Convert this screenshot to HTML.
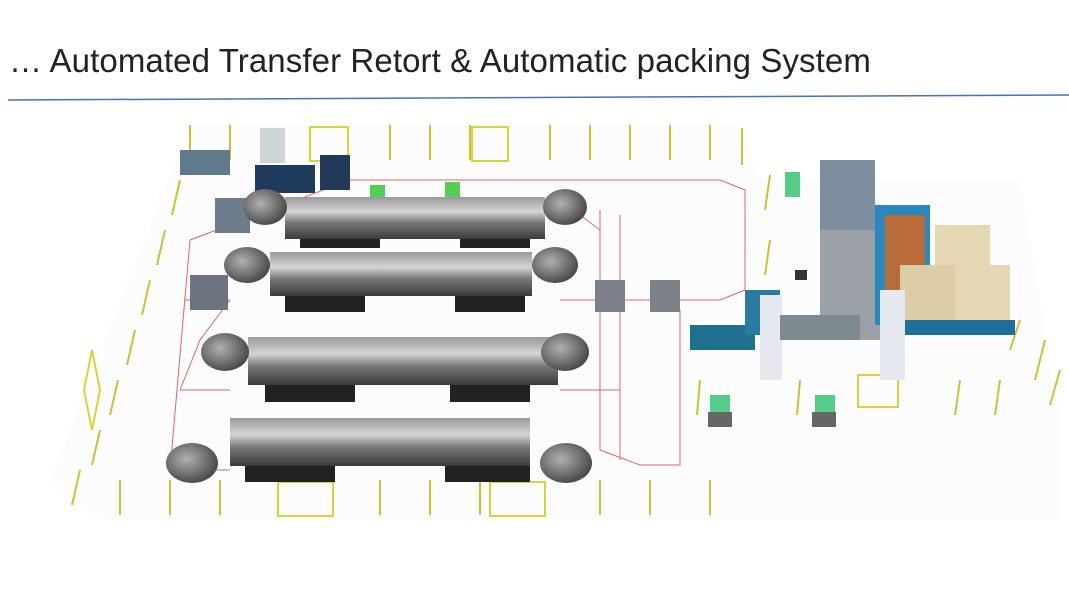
<!DOCTYPE html>
<html><head><meta charset="utf-8"><style>
html,body{margin:0;padding:0;background:#fff;width:1069px;height:601px;overflow:hidden}
.t{position:absolute;left:9px;top:42px;font-family:"Liberation Sans",sans-serif;font-size:33px;color:#222;letter-spacing:0.1px;white-space:nowrap}
svg{position:absolute;left:0;top:0}
</style></head><body>
<div class="t">… Automated Transfer Retort &amp; Automatic packing System</div>
<svg width="1069" height="601" viewBox="0 0 1069 601">
<defs>
<linearGradient id="cyl" x1="0" y1="0" x2="0" y2="1">
<stop offset="0" stop-color="#9a9a9a"/><stop offset="0.35" stop-color="#d4d4d4"/><stop offset="0.6" stop-color="#7a7a7a"/><stop offset="1" stop-color="#3a3a3a"/></linearGradient>
<radialGradient id="end" cx="0.4" cy="0.4" r="0.7"><stop offset="0" stop-color="#b0b0b0"/><stop offset="1" stop-color="#3c3c3c"/></radialGradient>
</defs>
<line x1="8" y1="100" x2="1069" y2="95" stroke="#4472c4" stroke-width="1.5"/>
<polygon points="190,125 740,125 760,180 1020,180 1060,420 1060,520 100,520 50,480" fill="#fcfcfc"/>
<g fill="none" stroke="#d66" stroke-width="1">
<path d="M190,240 L350,180 L720,180 L745,190 L745,290 L720,300 L560,300"/>
<path d="M190,240 L170,470 L230,470"/>
<path d="M600,210 L600,450 L640,465 L680,465 L680,310"/>
<path d="M620,215 L620,460"/>
<path d="M185,300 L230,300 M180,390 L230,390 M560,390 L620,390 M560,300 L600,300"/>
<path d="M230,300 L200,340 L180,390 M560,200 L600,230"/>
</g>
<g stroke="#c9c23a" stroke-width="2">
<line x1="190" y1="125" x2="190" y2="160"/><line x1="230" y1="125" x2="230" y2="160"/><line x1="390" y1="125" x2="390" y2="160"/><line x1="430" y1="125" x2="430" y2="160"/><line x1="470" y1="125" x2="470" y2="160"/><line x1="550" y1="125" x2="550" y2="160"/><line x1="590" y1="125" x2="590" y2="160"/><line x1="630" y1="125" x2="630" y2="160"/><line x1="670" y1="125" x2="670" y2="160"/><line x1="710" y1="125" x2="710" y2="160"/><line x1="742" y1="128" x2="742" y2="165"/>
<line x1="180" y1="180" x2="172" y2="215"/><line x1="165" y1="230" x2="157" y2="265"/><line x1="150" y1="280" x2="142" y2="315"/><line x1="135" y1="330" x2="127" y2="365"/><line x1="118" y1="380" x2="110" y2="415"/><line x1="100" y1="430" x2="92" y2="465"/><line x1="80" y1="470" x2="72" y2="505"/>
<line x1="120" y1="480" x2="120" y2="515"/><line x1="170" y1="480" x2="170" y2="515"/><line x1="220" y1="480" x2="220" y2="515"/><line x1="380" y1="480" x2="380" y2="515"/><line x1="430" y1="480" x2="430" y2="515"/><line x1="480" y1="480" x2="480" y2="515"/><line x1="600" y1="480" x2="600" y2="515"/><line x1="650" y1="480" x2="650" y2="515"/><line x1="710" y1="480" x2="710" y2="515"/>
<line x1="770" y1="175" x2="765" y2="210"/><line x1="770" y1="240" x2="765" y2="275"/><line x1="700" y1="380" x2="697" y2="415"/><line x1="800" y1="380" x2="797" y2="415"/><line x1="960" y1="380" x2="955" y2="415"/><line x1="1000" y1="380" x2="995" y2="415"/><line x1="1020" y1="320" x2="1010" y2="350"/><line x1="1045" y1="340" x2="1035" y2="380"/><line x1="1060" y1="370" x2="1050" y2="405"/>
</g>
<g fill="none" stroke="#d8d33a" stroke-width="2">
<rect x="310" y="127" width="38" height="34"/><rect x="472" y="127" width="36" height="34"/><rect x="278" y="482" width="55" height="34"/><rect x="490" y="482" width="55" height="34"/><rect x="858" y="375" width="40" height="32"/>
<path d="M92,350 L100,390 L92,430 L84,390Z"/>
</g>
<rect x="180" y="150" width="50" height="25" fill="#5f7a8a"/>
<rect x="255" y="165" width="60" height="28" fill="#1f3a5a"/><rect x="320" y="155" width="30" height="35" fill="#22395a"/>
<rect x="215" y="198" width="35" height="35" fill="#6d7d8c"/>
<rect x="260" y="128" width="25" height="35" fill="#cfd4d8"/>
<rect x="370" y="185" width="15" height="15" fill="#5c5"/><rect x="445" y="182" width="15" height="15" fill="#5c5"/>
<rect x="190" y="275" width="38" height="35" fill="#6b7480"/>
<rect x="595" y="280" width="30" height="32" fill="#7c8088"/><rect x="650" y="280" width="30" height="32" fill="#7c8088"/>
<g>
<rect x="300" y="230" width="80" height="18" fill="#222"/><rect x="460" y="230" width="70" height="18" fill="#222"/>
<rect x="285" y="197" width="260" height="42" fill="url(#cyl)"/>
<ellipse cx="265" cy="207" rx="22" ry="18" fill="url(#end)"/><ellipse cx="565" cy="207" rx="22" ry="18" fill="url(#end)"/>
<rect x="285" y="290" width="80" height="22" fill="#222"/><rect x="455" y="290" width="70" height="22" fill="#222"/>
<rect x="270" y="252" width="262" height="44" fill="url(#cyl)"/>
<ellipse cx="247" cy="265" rx="23" ry="18" fill="url(#end)"/><ellipse cx="555" cy="265" rx="23" ry="18" fill="url(#end)"/>
<rect x="265" y="378" width="90" height="24" fill="#222"/><rect x="450" y="378" width="80" height="24" fill="#222"/>
<rect x="248" y="337" width="310" height="48" fill="url(#cyl)"/>
<ellipse cx="225" cy="352" rx="24" ry="19" fill="url(#end)"/><ellipse cx="565" cy="352" rx="24" ry="19" fill="url(#end)"/>
<rect x="245" y="460" width="90" height="22" fill="#222"/><rect x="445" y="460" width="85" height="22" fill="#222"/>
<rect x="230" y="418" width="300" height="48" fill="url(#cyl)"/>
<ellipse cx="192" cy="463" rx="26" ry="20" fill="url(#end)"/><ellipse cx="566" cy="463" rx="26" ry="20" fill="url(#end)"/>
</g>
<rect x="820" y="160" width="55" height="70" fill="#7d8e9e"/>
<rect x="820" y="230" width="60" height="110" fill="#9aa0a6"/>
<rect x="785" y="172" width="15" height="25" fill="#5c8"/>
<rect x="875" y="205" width="55" height="120" fill="#2a87c0"/><rect x="885" y="215" width="40" height="100" fill="#b76c3a"/>
<rect x="935" y="225" width="55" height="50" fill="#e6d7b4"/><rect x="900" y="265" width="55" height="60" fill="#dccca8"/><rect x="955" y="265" width="55" height="60" fill="#e6d7b4"/>
<rect x="900" y="320" width="115" height="15" fill="#1f6f9a"/>
<rect x="690" y="325" width="65" height="25" fill="#1f6f8e"/><rect x="745" y="290" width="35" height="45" fill="#2b7aa0"/>
<rect x="760" y="295" width="22" height="85" fill="#e5e8ee"/><rect x="880" y="290" width="25" height="90" fill="#e5e8ee"/>
<rect x="780" y="315" width="80" height="25" fill="#7f8a90"/>
<rect x="795" y="270" width="12" height="10" fill="#333"/>
<rect x="710" y="395" width="20" height="18" fill="#5c8"/><rect x="815" y="395" width="20" height="18" fill="#5c8"/>
<rect x="708" y="412" width="24" height="15" fill="#666"/><rect x="812" y="412" width="24" height="15" fill="#666"/>
</svg>
</body></html>
